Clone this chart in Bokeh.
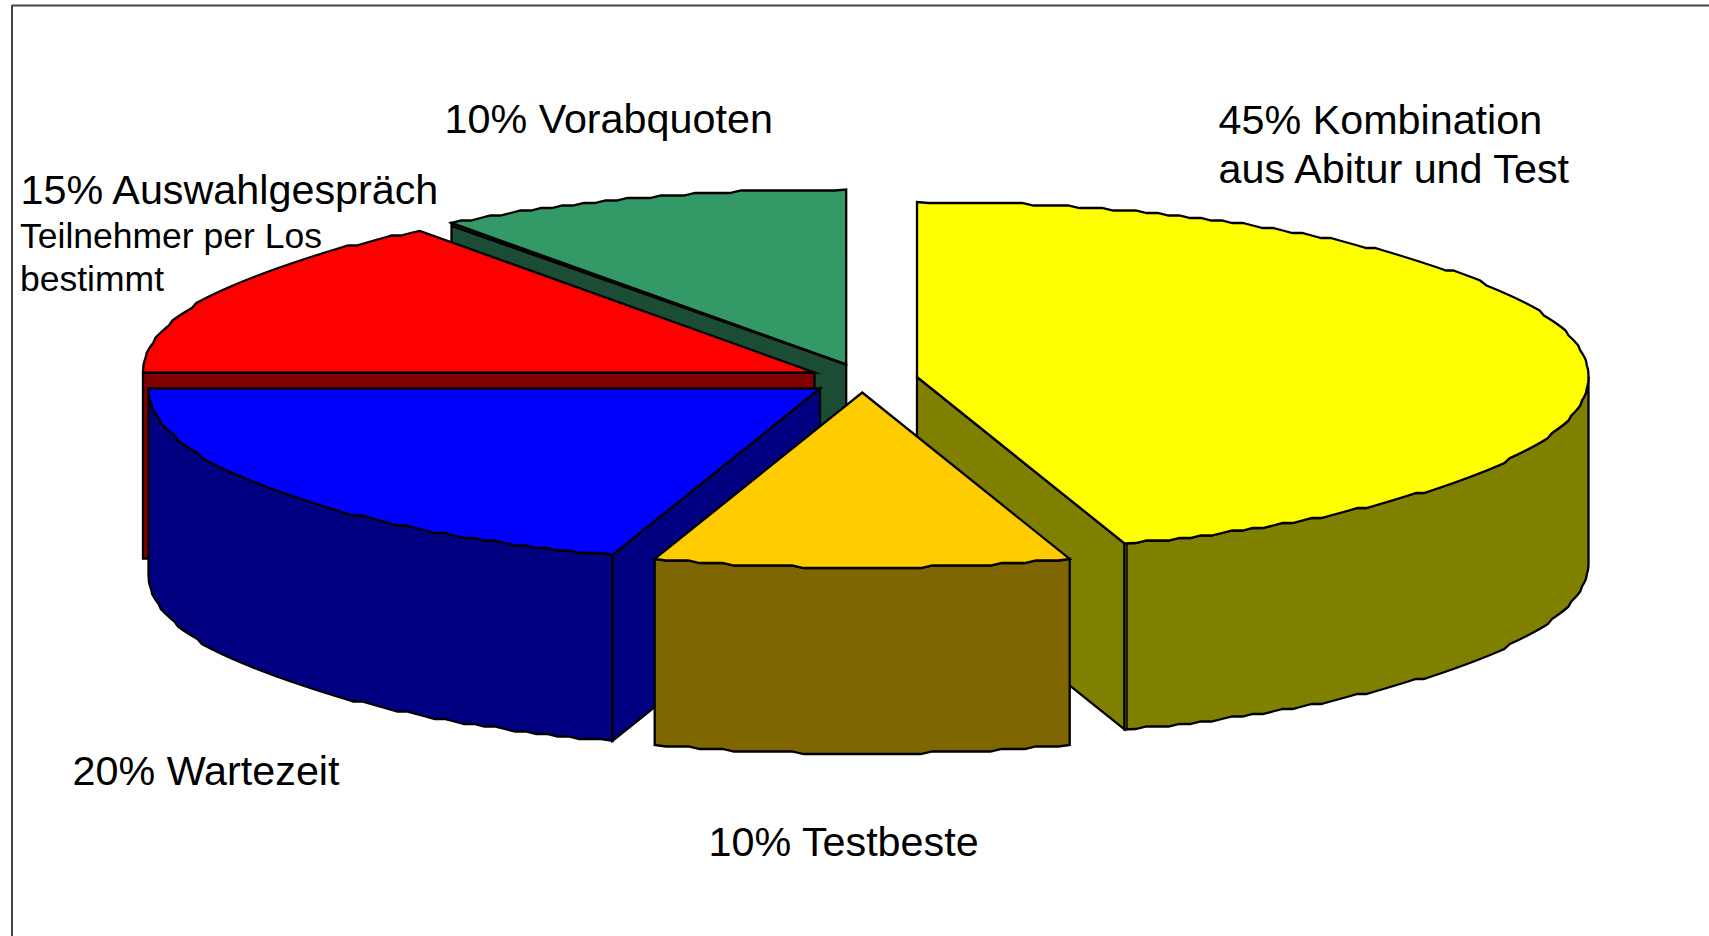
import numpy as np
from bokeh.plotting import figure
from bokeh.models import Range1d
from bokeh.core.properties import value
from bokeh.embed import file_html
from bokeh.resources import INLINE

# data
categories = ["Kombination aus Abitur und Test", "Testbeste", "Wartezeit", "Auswahlgespräch", "Vorabquoten"]
shares = [45, 10, 20, 15, 10]

top_colors = ["#FFFF00", "#FFCC00", "#0000FF", "#FF0000", "#339966"]
side_colors = ["#808000", "#806600", "#000080", "#800000", "#1A4D33"]

# exploded slice centres in page pixels
cx = [916.5, 861.7, 819.5, 814.0, 845.7]
cy = [376.5, 392.0, 388.0, 372.0, 364.0]
RX, RY, DEPTH = 671.5, 175.0, 186.0
GRID = 2.5

large_labels = ["45% Kombination", "aus Abitur und Test", "10% Vorabquoten",
                "15% Auswahlgespräch", "20% Wartezeit", "10% Testbeste"]
large_x = [1218, 1218, 444, 20, 72, 708]
large_y = [119, 168, 118.4, 189, 770.4, 841.6]
small_labels = ["Teilnehmer per Los", "bestimmt"]
small_x = [19.5, 19.5]
small_y = [235, 278]

p = figure(width=1709, height=936, output_backend="svg", toolbar_location=None,
           x_range=Range1d(0, 1709), y_range=Range1d(936, 0),
           min_border=0, margin=(0, 0, 0, 0), outline_line_color=None,
           background_fill_color="white", border_fill_color="white")
p.xaxis.visible = False
p.yaxis.visible = False
p.grid.visible = False

# frame
p.line([11.5, 11.5, 1709], [936, 5, 5], line_color="#444444", line_width=2)


def rim(i, a0, a1, dy=0.0, step=1.0):
    n = max(2, int(abs(a1 - a0) / step) + 1)
    t = np.radians(np.linspace(a0, a1, n))
    x = cx[i] + RX * np.sin(t)
    y = cy[i] - RY * np.cos(t)
    y[1:-1] = np.round(y[1:-1] / GRID) * GRID
    return x, y + dy


edges = np.concatenate([[0], np.cumsum(shares)]) * 3.6


def shape(xs, ys, color):
    p.patch(list(xs), list(ys), fill_color=color, line_color="black", line_width=2.3,
            line_join="miter")


def cut_face(i, a):
    ex, ey = rim(i, a, a)
    ex, ey = ex[0], ey[0]
    shape([cx[i], ex, ex, cx[i]], [cy[i], ey, ey + DEPTH, cy[i] + DEPTH], side_colors[i])


def outer_wall(i, a0, a1):
    x0, y0 = rim(i, a0, a1)
    x1, y1 = rim(i, a0, a1, dy=DEPTH)
    shape(np.concatenate([x0, x1[::-1]]), np.concatenate([y0, y1[::-1]]), side_colors[i])


def top(i):
    x, y = rim(i, edges[i], edges[i + 1])
    shape(np.concatenate([[cx[i]], x]), np.concatenate([[cy[i]], y]), top_colors[i])


# green (back)
cut_face(4, edges[4])
top(4)
gx, gy = rim(4, edges[4], edges[4])
p.line([gx[0], cx[4]], [gy[0] + 3, cy[4]], line_color="black", line_width=2.5)
# red
cut_face(3, 270)
top(3)
# blue
outer_wall(2, edges[2], edges[3])
cut_face(2, edges[2])
top(2)
# yellow
cut_face(0, edges[1])
outer_wall(0, 90, edges[1])
top(0)
yx, yy = rim(0, edges[1], edges[1])
p.line([yx[0] + 2.5, yx[0] + 2.5], [yy[0], yy[0] + DEPTH], line_color="black", line_width=1.5)
# orange (front)
outer_wall(1, edges[1], edges[2])
top(1)

p.text(large_x, large_y, text=large_labels, text_font=value("Liberation Sans"),
       text_font_size="41.3px", text_color="black", text_baseline="alphabetic", text_align="left")
p.text(small_x, small_y, text=small_labels, text_font=value("Liberation Sans"),
       text_font_size="35.5px", text_color="black", text_baseline="alphabetic", text_align="left")

open("out.html", "w").write(file_html(p, INLINE))
